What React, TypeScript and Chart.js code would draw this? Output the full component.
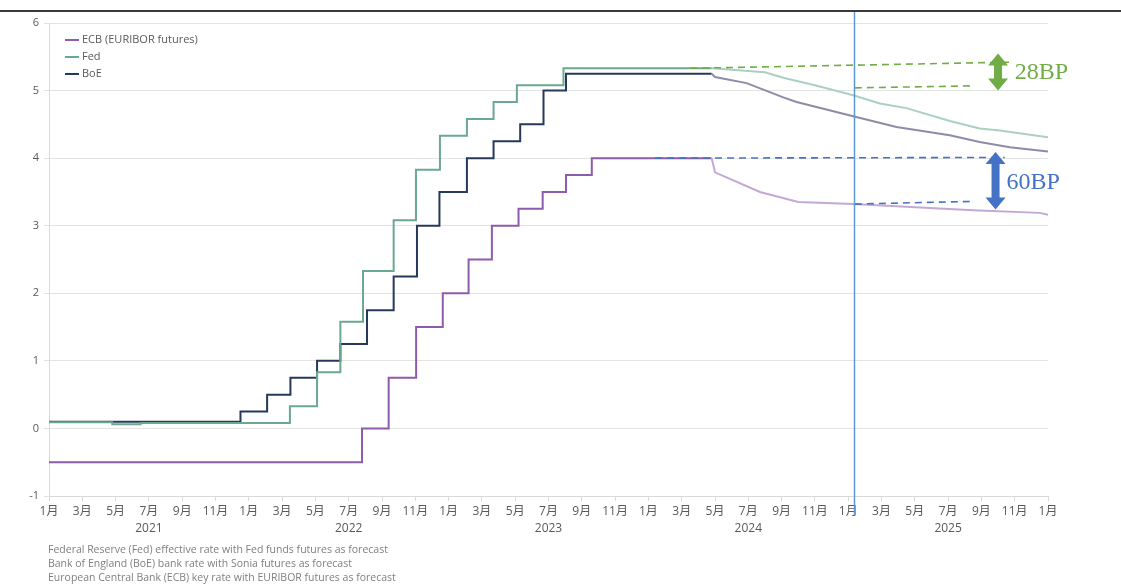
import React, { useEffect, useRef } from "react";
import { Chart, registerables } from "chart.js";

Chart.register(...registerables);

// months since Jan 2021 (x) and rates (%)
const FED_M = [0, 3.8, 5.5, 14.47, 16.1, 17.5, 18.86, 20.7, 22.04, 23.48, 25.1, 26.7, 28.1, 30.9, 39.8];
const FED_R = [0.09, 0.06, 0.08, 0.33, 0.83, 1.58, 2.33, 3.08, 3.83, 4.33, 4.58, 4.83, 5.08, 5.33, 5.33];
const FED_FC_M = [39.8, 43.0, 44.1, 46.0, 48.3, 49.9, 51.5, 54.1, 55.9, 57.1, 60];
const FED_FC_R = [5.33, 5.27, 5.19, 5.08, 4.93, 4.81, 4.74, 4.55, 4.44, 4.41, 4.31];

const BOE_M = [0, 11.5, 13.1, 14.5, 16.1, 17.5, 19.1, 20.7, 22.1, 23.45, 25.1, 26.7, 28.3, 29.7, 31.05, 39.8];
const BOE_R = [0.1, 0.25, 0.5, 0.75, 1.0, 1.25, 1.75, 2.25, 3.0, 3.5, 4.0, 4.25, 4.5, 5.0, 5.25, 5.25];
const BOE_FC_M = [39.8, 40.0, 41.9, 44.1, 44.9, 48.3, 50.9, 54.1, 55.9, 57.7, 60];
const BOE_FC_R = [5.25, 5.2, 5.11, 4.9, 4.83, 4.62, 4.46, 4.34, 4.24, 4.16, 4.1];

const ECB_M = [0, 18.8, 20.4, 22.05, 23.65, 25.2, 26.6, 28.2, 29.65, 31.05, 32.6, 39.8];
const ECB_R = [-0.5, 0, 0.75, 1.5, 2.0, 2.5, 3.0, 3.25, 3.5, 3.75, 4.0, 4.0];
const ECB_FC_M = [39.8, 40.0, 42.7, 45.0, 48.3, 55.5, 59.5, 60];
const ECB_FC_R = [4.0, 3.79, 3.5, 3.35, 3.32, 3.23, 3.19, 3.16];

const MONTH_LABELS = ["1月", "2月", "3月", "4月", "5月", "6月", "7月", "8月", "9月", "10月", "11月", "12月"];
const YEAR_LABELS = ["2021", "2022", "2023", "2024", "2025", "2026"];
const LEGEND_NAMES = ["ECB (EURIBOR futures)", "Fed", "BoE"];
const FOOTNOTES = [
  "Federal Reserve (Fed) effective rate with Fed funds futures as forecast",
  "Bank of England (BoE) bank rate with Sonia futures as forecast",
  "European Central Bank (ECB) key rate with EURIBOR futures as forecast",
];

// annotation lines in data units [x1, y1, x2, y2]
const GREEN_DASHES = [
  [38.5, 5.33, 57.7, 5.42],
  [48.4, 5.04, 55.6, 5.07],
];
const BLUE_DASHES = [
  [36.4, 4.0, 57.4, 4.01],
  [48.4, 3.32, 55.4, 3.36],
];
const GREEN_ARROW = [57.0, 5.55, 5.0];
const BLUE_ARROW = [56.85, 4.09, 3.24];
const GREEN_TEXT = { x: 58.0, y: 5.27, text: "28BP" };
const BLUE_TEXT = { x: 57.5, y: 3.63, text: "60BP" };
const NOW_LINE_X = 48.35;

const C_ECB = "#8f5cab";
const C_FED = "#6aa88f";
const C_BOE = "#26395c";
const C_ECB_FC = "#c4a8d4";
const C_FED_FC = "#abd0c0";
const C_BOE_FC = "#8c8ca8";

const pts = (xs: number[], ys: number[]) => xs.map((x, i) => ({ x, y: ys[i] }));

function drawDoubleArrow(ctx: CanvasRenderingContext2D, cx: number, yTop: number, yBot: number, color: string) {
  const shaft = 4;
  const head = 10;
  const hl = 12;
  ctx.save();
  ctx.fillStyle = color;
  ctx.beginPath();
  ctx.moveTo(cx, yTop);
  ctx.lineTo(cx + head, yTop + hl);
  ctx.lineTo(cx + shaft, yTop + hl);
  ctx.lineTo(cx + shaft, yBot - hl);
  ctx.lineTo(cx + head, yBot - hl);
  ctx.lineTo(cx, yBot);
  ctx.lineTo(cx - head, yBot - hl);
  ctx.lineTo(cx - shaft, yBot - hl);
  ctx.lineTo(cx - shaft, yTop + hl);
  ctx.lineTo(cx - head, yTop + hl);
  ctx.closePath();
  ctx.fill();
  ctx.restore();
}

const overlayPlugin = {
  id: "overlay",
  afterDatasetsDraw(chart: any) {
    const { ctx, chartArea } = chart;
    const xs = chart.scales.x;
    const ys = chart.scales.y;
    const px = (v: number) => xs.getPixelForValue(v);
    const py = (v: number) => ys.getPixelForValue(v);

    ctx.save();
    const dash = (arr: number[][], color: string) => {
      ctx.strokeStyle = color;
      ctx.lineWidth = 1.6;
      ctx.setLineDash([7, 5]);
      arr.forEach(([x1, y1, x2, y2]) => {
        ctx.beginPath();
        ctx.moveTo(px(x1), py(y1));
        ctx.lineTo(px(x2), py(y2));
        ctx.stroke();
      });
      ctx.setLineDash([]);
    };
    dash(GREEN_DASHES, "#70ad47");
    dash(BLUE_DASHES, "#4472c4");

    drawDoubleArrow(ctx, px(GREEN_ARROW[0]), py(GREEN_ARROW[1]), py(GREEN_ARROW[2]), "#70ad47");
    drawDoubleArrow(ctx, px(BLUE_ARROW[0]), py(BLUE_ARROW[1]), py(BLUE_ARROW[2]), "#4472c4");

    ctx.font = '24px "Liberation Serif", "DejaVu Serif", serif';
    ctx.textBaseline = "middle";
    ctx.textAlign = "left";
    ctx.fillStyle = "#70ad47";
    ctx.fillText(GREEN_TEXT.text, px(GREEN_TEXT.x), py(GREEN_TEXT.y));
    ctx.fillStyle = "#4472c4";
    ctx.fillText(BLUE_TEXT.text, px(BLUE_TEXT.x), py(BLUE_TEXT.y));

    const vx = Math.round(px(NOW_LINE_X)) + 0.5;
    ctx.strokeStyle = "#5b9bd5";
    ctx.lineWidth = 1.5;
    ctx.beginPath();
    ctx.moveTo(vx, 12);
    ctx.lineTo(vx, chartArea.bottom + 19);
    ctx.stroke();

    const colors = [C_ECB, C_FED, C_BOE];
    ctx.font = '11px "Open Sans", "Noto Sans", sans-serif';
    ctx.textBaseline = "middle";
    LEGEND_NAMES.forEach((name, i) => {
      const y = chartArea.top + 17 + i * 17;
      ctx.strokeStyle = colors[i];
      ctx.lineWidth = 2;
      ctx.beginPath();
      ctx.moveTo(chartArea.left + 16, y);
      ctx.lineTo(chartArea.left + 30, y);
      ctx.stroke();
      ctx.fillStyle = "#595959";
      ctx.fillText(name, chartArea.left + 33, y);
    });

    ctx.fillStyle = "#3a3a3a";
    ctx.fillRect(0, 10, chart.width, 2);
    ctx.restore();
  },
};

export default function App() {
  const ref = useRef<HTMLCanvasElement | null>(null);

  useEffect(() => {
    document.body.style.margin = "0";
    const canvas = ref.current!;
    const common = { pointRadius: 0, fill: false, tension: 0 };
    const chart = new Chart(canvas, {
      type: "line",
      data: {
        datasets: [
          { ...common, label: "ECB forecast", data: pts(ECB_FC_M, ECB_FC_R), borderColor: C_ECB_FC, borderWidth: 2 },
          { ...common, label: "BoE forecast", data: pts(BOE_FC_M, BOE_FC_R), borderColor: C_BOE_FC, borderWidth: 2 },
          { ...common, label: "Fed forecast", data: pts(FED_FC_M, FED_FC_R), borderColor: C_FED_FC, borderWidth: 2 },
          { ...common, label: "ECB (EURIBOR futures)", data: pts(ECB_M, ECB_R), borderColor: C_ECB, borderWidth: 2, stepped: "before" },
          { ...common, label: "Fed", data: pts(FED_M, FED_R), borderColor: C_FED, borderWidth: 2, stepped: "before" },
          { ...common, label: "BoE", data: pts(BOE_M, BOE_R), borderColor: C_BOE, borderWidth: 2, stepped: "before" },
        ],
      },
      options: {
        animation: false,
        responsive: false,
        maintainAspectRatio: false,
        layout: { padding: { left: 0, right: 73, top: 23, bottom: 0 } },
        plugins: { legend: { display: false }, tooltip: { enabled: false }, title: { display: false } },
        scales: {
          x: {
            type: "linear",
            min: 0,
            max: 60,
            afterFit: (s: any) => { s.height = 89; },
            afterBuildTicks: (s: any) => {
              const t = [];
              for (let v = 0; v <= 60; v += 2) t.push({ value: v });
              s.ticks = t;
            },
            ticks: {
              autoSkip: false,
              maxRotation: 0,
              padding: 2,
              color: "#595959",
              font: { family: '"Open Sans", "Noto Sans CJK SC", sans-serif', size: 12, lineHeight: 1.4 },
              callback: (v: any) => {
                const n = Math.round(Number(v));
                const m = MONTH_LABELS[n % 12];
                if (n % 12 === 6) return [m, YEAR_LABELS[Math.floor(n / 12)]];
                return m;
              },
            },
            grid: { drawOnChartArea: false, drawTicks: true, tickLength: 5, color: "#d9d9d9" },
            border: { display: true, color: "#d9d9d9" },
          },
          y: {
            min: -1,
            max: 6,
            afterFit: (s: any) => { s.width = 49; },
            ticks: {
              stepSize: 1,
              padding: 5,
              color: "#595959",
              font: { family: '"Open Sans", sans-serif', size: 11 },
            },
            grid: { color: "#e3e3e3", tickLength: 5 },
            border: { display: true, color: "#d9d9d9" },
          },
        },
      },
      plugins: [overlayPlugin],
    } as any);
    return () => chart.destroy();
  }, []);

  return (
    <div style={{ position: "fixed", left: 0, top: 0, width: 1121, height: 585, background: "#fff", overflow: "hidden" }}>
      <canvas ref={ref} width={1121} height={585} style={{ position: "absolute", left: 0, top: 0, width: 1121, height: 585 }} />
      <div
        style={{
          position: "absolute",
          left: 48,
          top: 542,
          fontFamily: '"Open Sans", "Noto Sans", sans-serif',
          fontSize: 10.5,
          lineHeight: "14px",
          color: "#7f7f7f",
        }}
      >
        {FOOTNOTES.map((f) => (
          <div key={f}>{f}</div>
        ))}
      </div>
    </div>
  );
}
